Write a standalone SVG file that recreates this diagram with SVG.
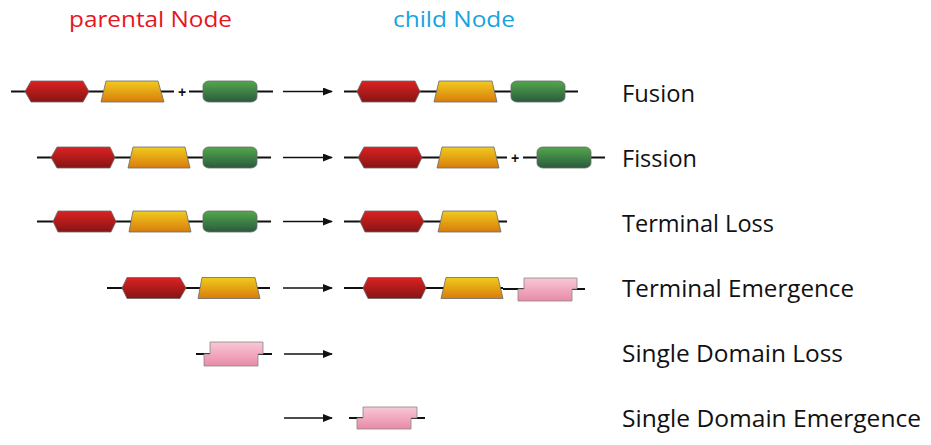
<svg xmlns="http://www.w3.org/2000/svg" width="931" height="445" viewBox="0 0 931 445">
  <defs>
    <linearGradient id="gRed" x1="0" y1="0" x2="0" y2="1">
      <stop offset="0" stop-color="#dc2222"/>
      <stop offset="1" stop-color="#861414"/>
    </linearGradient>
    <linearGradient id="gYel" x1="0" y1="0" x2="0" y2="1">
      <stop offset="0" stop-color="#f0cb1e"/>
      <stop offset="1" stop-color="#d97c0c"/>
    </linearGradient>
    <linearGradient id="gGrn" x1="0" y1="0" x2="0" y2="1">
      <stop offset="0" stop-color="#52a84c"/>
      <stop offset="1" stop-color="#2b5a3e"/>
    </linearGradient>
    <linearGradient id="gPnk" x1="0" y1="0" x2="0" y2="1">
      <stop offset="0" stop-color="#f8c8d6"/>
      <stop offset="1" stop-color="#e98aa8"/>
    </linearGradient>
    <marker id="arrow" viewBox="0 0 10 8" refX="9" refY="4" markerWidth="10" markerHeight="8" markerUnits="userSpaceOnUse" orient="auto">
      <path d="M0,0 L10,4 L0,8 Z" fill="#111"/>
    </marker>
  </defs>
  <style>
    .bb { stroke: #111; stroke-width: 2; fill: none; }
    .red { fill: url(#gRed); stroke: #6a6a6a; stroke-width: 0.8; }
    .yel { fill: url(#gYel); stroke: #6a6a6a; stroke-width: 0.8; }
    .grn { fill: url(#gGrn); stroke: #6a6a6a; stroke-width: 0.8; }
    .pnk { fill: url(#gPnk); stroke: #888; stroke-width: 0.8; }
    .plus { font-family: "Liberation Sans", Arial, sans-serif; font-size: 14px; font-weight: bold; fill: #111; text-anchor: middle; }
    .arr { stroke: #111; stroke-width: 1.4; fill: none; marker-end: url(#arrow); }
    .lbl { font-family: "Open Sans", "Noto Sans", sans-serif; font-size: 24px; fill: #111; }
    .head { font-family: "Open Sans", "Noto Sans", sans-serif; font-size: 22px; }
  </style>

  <!-- column headings -->
  <g id="headings">
    <text class="head" x="69" y="27" fill="#e8141e" textLength="163" lengthAdjust="spacingAndGlyphs">parental Node</text>
    <text class="head" x="393" y="27" fill="#17a3e2" textLength="122" lengthAdjust="spacingAndGlyphs">child Node</text>
  </g>

  <!-- event names -->
  <g id="labels">
    <text class="lbl" x="622" y="102" textLength="73" lengthAdjust="spacingAndGlyphs">Fusion</text>
    <text class="lbl" x="622" y="167" textLength="75" lengthAdjust="spacingAndGlyphs">Fission</text>
    <text class="lbl" x="622" y="232" textLength="152" lengthAdjust="spacingAndGlyphs">Terminal Loss</text>
    <text class="lbl" x="622" y="297" textLength="232" lengthAdjust="spacingAndGlyphs">Terminal Emergence</text>
    <text class="lbl" x="622" y="362" textLength="221" lengthAdjust="spacingAndGlyphs">Single Domain Loss</text>
    <text class="lbl" x="622" y="427" textLength="299" lengthAdjust="spacingAndGlyphs">Single Domain Emergence</text>
  </g>

  <!-- arrows from parent to child -->
  <g id="connectors">
    <line class="arr" x1="283" y1="91.5" x2="332" y2="91.5"/>
    <line class="arr" x1="283" y1="157.5" x2="332" y2="157.5"/>
    <line class="arr" x1="283" y1="221.5" x2="332" y2="221.5"/>
    <line class="arr" x1="283" y1="288" x2="332" y2="288"/>
    <line class="arr" x1="284" y1="354" x2="332" y2="354"/>
    <line class="arr" x1="284" y1="418" x2="332" y2="418"/>
  </g>

  <!-- Fusion: parent (two proteins) -->
  <g id="fusion-parent">
    <line class="bb" x1="11" y1="91.5" x2="174" y2="91.5"/>
    <text class="plus" x="182" y="97">+</text>
    <line class="bb" x1="189" y1="91.5" x2="273" y2="91.5"/>
    <polygon class="red" points="25,91.5 31,81 83,81 89,91.5 83,102 31,102"/>
    <polygon class="yel" points="106,81 158,81 164,102 101,102"/>
    <rect class="grn" x="203" y="81" width="54" height="21" rx="6" ry="5"/>
  </g>

  <!-- Fusion: child -->
  <g id="fusion-child">
    <line class="bb" x1="344" y1="91.5" x2="578" y2="91.5"/>
    <polygon class="red" points="357,91.5 362,81 415,81 420,91.5 415,102 362,102"/>
    <polygon class="yel" points="439,81 492,81 497,102 434,102"/>
    <rect class="grn" x="511" y="81" width="54" height="21" rx="6" ry="5"/>
  </g>

  <!-- Fission: parent -->
  <g id="fission-parent">
    <line class="bb" x1="37" y1="157.5" x2="271" y2="157.5"/>
    <polygon class="red" points="51,157.5 57,147 110,147 115,157.5 110,168 57,168"/>
    <polygon class="yel" points="133,147 185,147 190,168 128,168"/>
    <rect class="grn" x="203" y="147" width="54" height="21" rx="6" ry="5"/>
  </g>

  <!-- Fission: child (two proteins) -->
  <g id="fission-child">
    <line class="bb" x1="344" y1="157.5" x2="507" y2="157.5"/>
    <text class="plus" x="515" y="163">+</text>
    <line class="bb" x1="523" y1="157.5" x2="605" y2="157.5"/>
    <polygon class="red" points="358,157.5 364,147 417,147 422,157.5 417,168 364,168"/>
    <polygon class="yel" points="442,147 494,147 499,168 437,168"/>
    <rect class="grn" x="537" y="147" width="54" height="21" rx="6" ry="5"/>
  </g>

  <!-- Terminal Loss: parent -->
  <g id="terminal-loss-parent">
    <line class="bb" x1="37" y1="221.5" x2="271" y2="221.5"/>
    <polygon class="red" points="53,221.5 58,211 111,211 116,221.5 111,232 58,232"/>
    <polygon class="yel" points="133,211 186,211 191,232 129,232"/>
    <rect class="grn" x="203" y="211" width="54" height="21" rx="6" ry="5"/>
  </g>

  <!-- Terminal Loss: child -->
  <g id="terminal-loss-child">
    <line class="bb" x1="344" y1="221.5" x2="507" y2="221.5"/>
    <polygon class="red" points="360,221.5 365,211 418,211 424,221.5 418,232 365,232"/>
    <polygon class="yel" points="443,211 496,211 501,232 438,232"/>
  </g>

  <!-- Terminal Emergence: parent -->
  <g id="terminal-emergence-parent">
    <line class="bb" x1="107" y1="288" x2="270" y2="288"/>
    <polygon class="red" points="122,288 127,277.5 180,277.5 186,288 180,298.5 127,298.5"/>
    <polygon class="yel" points="202,277.5 255,277.5 260,298.5 198,298.5"/>
  </g>

  <!-- Terminal Emergence: child -->
  <g id="terminal-emergence-child">
    <line class="bb" x1="344" y1="288" x2="503" y2="288"/>
    <line class="bb" x1="503" y1="289" x2="524" y2="289" stroke-width="2.4"/>
    <line class="bb" x1="572" y1="289" x2="585" y2="289"/>
    <polygon class="red" points="363,288 368,277.5 421,277.5 426,288 421,298.5 368,298.5"/>
    <polygon class="yel" points="446,277.5 498,277.5 503,298.5 441,298.5"/>
    <polygon class="pnk" points="524,278 577,278 577,289 572,289 572,301 518,301 518,289 524,289"/>
  </g>

  <!-- Single Domain Loss: parent -->
  <g id="single-loss-parent">
    <line class="bb" x1="196" y1="354" x2="210" y2="354"/>
    <line class="bb" x1="258" y1="354" x2="272" y2="354"/>
    <polygon class="pnk" points="210,342 263,342 263,354 258,354 258,366 204,366 204,354 210,354"/>
  </g>

  <!-- Single Domain Emergence: child -->
  <g id="single-emergence-child">
    <line class="bb" x1="349" y1="418" x2="363" y2="418"/>
    <line class="bb" x1="411" y1="418" x2="425" y2="418"/>
    <polygon class="pnk" points="363,407 417,407 417,418 411,418 411,429 357,429 357,418 363,418"/>
  </g>
</svg>
